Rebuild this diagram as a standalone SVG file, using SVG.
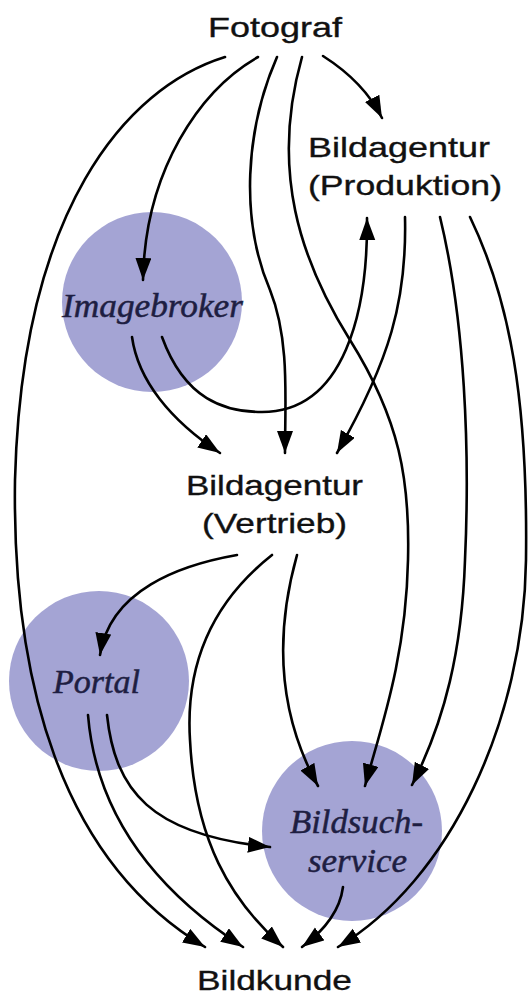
<svg xmlns="http://www.w3.org/2000/svg" width="529" height="997" viewBox="0 0 529 997">
  <style>
    .lbl { font-family: "Liberation Sans", Arial, sans-serif; font-size: 28px; fill: #111; stroke: #111; stroke-width: 0.35; }
    .role { font-family: "Liberation Serif", "Times New Roman", serif; font-style: italic; font-size: 34px; fill: #1e1e42; stroke: #1e1e42; stroke-width: 0.5; }
    .disc { fill: #a4a4d4; }
    .edge { fill: none; stroke: #000; stroke-width: 2.6; stroke-linecap: round; marker-end: url(#ah); }
  </style>
  <defs>
    <marker id="ah" markerWidth="23" markerHeight="17" refX="22" refY="8" orient="auto" markerUnits="userSpaceOnUse">
      <path d="M0,0 L22,8 L0,16 z" fill="#000"/>
    </marker>
  </defs>

  <rect width="529" height="997" fill="#fff"/>

  <!-- nodes -->
  <g id="fotograf">
    <text class="lbl" x="208" y="37" textLength="134" lengthAdjust="spacingAndGlyphs">Fotograf</text>
  </g>
  <g id="bildagentur-produktion">
    <text class="lbl" x="308" y="157" textLength="182" lengthAdjust="spacingAndGlyphs">Bildagentur</text>
    <text class="lbl" x="308" y="195" textLength="194" lengthAdjust="spacingAndGlyphs">(Produktion)</text>
  </g>
  <g id="imagebroker">
    <circle class="disc" cx="152" cy="302" r="90"/>
    <text class="role" x="62" y="317" textLength="181" lengthAdjust="spacingAndGlyphs">Imagebroker</text>
  </g>
  <g id="bildagentur-vertrieb">
    <text class="lbl" x="186" y="495" textLength="177" lengthAdjust="spacingAndGlyphs">Bildagentur</text>
    <text class="lbl" x="202" y="533" textLength="145" lengthAdjust="spacingAndGlyphs">(Vertrieb)</text>
  </g>
  <g id="portal">
    <circle class="disc" cx="99" cy="681" r="90"/>
    <text class="role" x="53" y="693" textLength="87" lengthAdjust="spacingAndGlyphs">Portal</text>
  </g>
  <g id="bildsuchservice">
    <circle class="disc" cx="352" cy="831" r="90"/>
    <text class="role" x="290" y="833" textLength="133" lengthAdjust="spacingAndGlyphs">Bildsuch-</text>
    <text class="role" x="308" y="872" textLength="99" lengthAdjust="spacingAndGlyphs">service</text>
  </g>
  <g id="bildkunde">
    <text class="lbl" x="197" y="990" textLength="155" lengthAdjust="spacingAndGlyphs">Bildkunde</text>
  </g>

  <!-- connectors -->
  <g id="connectors">
    <!-- Fotograf -->
    <path class="edge" d="M225,57 C125,88 22,210 15,480 C12,680 60,860 205,947"/>
    <path class="edge" d="M258,57 C200,90 145,170 143,280"/>
    <path class="edge" d="M277,57 C245,130 240,220 270,290 C290,340 285,400 285,453"/>
    <path class="edge" d="M302,57 C270,170 300,260 350,340 C400,420 410,480 408,560 C406,660 380,730 365,786"/>
    <path class="edge" d="M323,56 C345,70 368,90 382,118"/>
    <!-- Imagebroker -->
    <path class="edge" d="M132,337 C138,380 170,420 220,453"/>
    <path class="edge" d="M162,337 C185,400 225,412 262,412 C345,412 368,310 367,218"/>
    <!-- Bildagentur (Produktion) -->
    <path class="edge" d="M405,217 C407,300 390,360 337,453"/>
    <path class="edge" d="M440,217 C465,320 470,450 465,560 C462,650 445,720 412,785"/>
    <path class="edge" d="M470,217 C510,300 528,400 526,560 C524,720 450,880 338,947"/>
    <!-- Bildagentur (Vertrieb) -->
    <path class="edge" d="M237,555 C180,565 110,590 100,655"/>
    <path class="edge" d="M272,555 C215,600 185,660 190,740 C195,840 230,900 283,947"/>
    <path class="edge" d="M297,555 C276,630 276,710 318,786"/>
    <!-- Portal -->
    <path class="edge" d="M88,715 C95,800 140,880 243,947"/>
    <path class="edge" d="M107,715 C115,790 150,835 270,847"/>
    <!-- Bildsuchservice -->
    <path class="edge" d="M343,887 C340,910 325,930 302,947"/>
  </g>
</svg>
